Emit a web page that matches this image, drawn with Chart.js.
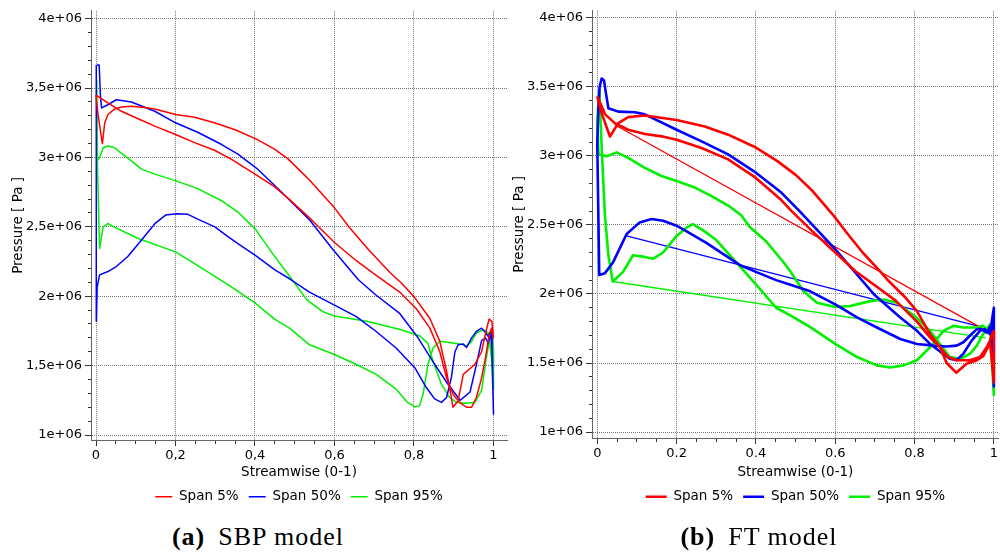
<!DOCTYPE html>
<html>
<head>
<meta charset="utf-8">
<script src="https://cdn.jsdelivr.net/npm/chart.js@4.4.1/dist/chart.umd.min.js"></script>
<style>
  body { margin: 0; width: 1000px; height: 556px; background: #fff; position: relative; overflow: hidden; }
  canvas { position: absolute; top: 0; }
  #sbp-chart { left: 0; }
  #ft-chart { left: 500px; }
  .caption { position: absolute; top: 522px; font-family: 'Liberation Serif', serif; font-size: 26px; letter-spacing: 1px; text-align: center; color: #000; line-height: 30px; }
</style>
</head>
<body>
<canvas id="sbp-chart" width="510" height="520"></canvas>
<canvas id="ft-chart" width="500" height="520"></canvas>
<div class="caption" style="left:0;width:516px"><b>(a)</b><span style="margin-left:13px">SBP model</span></div>
<div class="caption" style="left:518px;width:482px"><b>(b)</b><span style="margin-left:13px">FT model</span></div>
<script>
// pressure in 1e6 Pa, streamwise position 0-1
const xMajor = [0, 0.2, 0.4, 0.6, 0.8, 1];
const yMajor = [1, 1.5, 2, 2.5, 3, 3.5, 4];
const sbpXLabels = ['0', '0,2', '0,4', '0,6', '0,8', '1'];
const sbpYLabels = ['1e+06', '1,5e+06', '2e+06', '2,5e+06', '3e+06', '3,5e+06', '4e+06'];
const ftXLabels = ['0', '0.2', '0.4', '0.6', '0.8', '1'];
const ftYLabels = ['1e+06', '1.5e+06', '2e+06', '2.5e+06', '3e+06', '3.5e+06', '4e+06'];
const spanLabels = ['Span 5%', 'Span 50%', 'Span 95%'];
const spanColors = ['#ff0000', '#0000ff', '#00f000'];

// SBP model, each span is one closed loop round the blade
const sbpSpan5X = [0.000, 0.005, 0.016, 0.022, 0.030, 0.047, 0.064, 0.089, 0.127, 0.148, 0.200, 0.248, 0.298, 0.350, 0.405, 0.449, 0.483, 0.513, 0.537, 0.600,
  0.638, 0.688, 0.739, 0.770, 0.802, 0.840, 0.865, 0.882, 0.894, 0.898, 0.911, 0.924, 0.953, 0.970, 0.981, 0.989, 0.996, 1.000,
  0.995, 0.988, 0.980, 0.970, 0.957, 0.945, 0.932, 0.915, 0.899, 0.882, 0.865, 0.840, 0.806, 0.764, 0.705, 0.655, 0.600, 0.537, 0.487, 0.449,
  0.399, 0.340, 0.298, 0.248, 0.200, 0.148, 0.106, 0.064, 0.030, 0.000];
const sbpSpan5P = [3.45, 3.31, 3.10, 3.25, 3.31, 3.35, 3.364, 3.37, 3.358, 3.35, 3.31, 3.29, 3.25, 3.20, 3.13, 3.06, 2.99, 2.905, 2.838, 2.637,
  2.494, 2.328, 2.173, 2.09, 1.99, 1.84, 1.675, 1.46, 1.27, 1.20, 1.247, 1.437, 1.508, 1.60, 1.746, 1.836, 1.817, 1.70,
  1.77, 1.70, 1.56, 1.41, 1.27, 1.20, 1.20, 1.235, 1.29, 1.41, 1.60, 1.77, 1.91, 2.03, 2.15, 2.256, 2.387, 2.565, 2.696, 2.79,
  2.881, 2.988, 3.052, 3.107, 3.166, 3.226, 3.279, 3.333, 3.393, 3.45];

const sbpSpan50X = [0.002, 0.008, 0.011, 0.014, 0.030, 0.051, 0.089, 0.148, 0.200, 0.257, 0.315, 0.357, 0.405, 0.471, 0.496, 0.538, 0.597, 0.660, 0.705, 0.764,
  0.807, 0.849, 0.882, 0.916, 0.941, 0.958, 0.970, 0.980, 0.987, 0.993, 0.996, 1.000,
  0.996, 0.992, 0.987, 0.978, 0.970, 0.957, 0.945, 0.932, 0.924, 0.911, 0.903, 0.894, 0.882, 0.869, 0.852, 0.831, 0.802, 0.755, 0.705, 0.655,
  0.600, 0.537, 0.487, 0.450, 0.400, 0.357, 0.332, 0.299, 0.260, 0.231, 0.203, 0.175, 0.148, 0.114, 0.080, 0.051, 0.030, 0.009, 0.003, 0.001,
  0.000, 0.000, 0.002];
const sbpSpan50P = [3.666, 3.666, 3.45, 3.357, 3.38, 3.416, 3.40, 3.333, 3.25, 3.18, 3.095, 3.024, 2.92, 2.738, 2.666, 2.547, 2.333, 2.119, 2.007, 1.876,
  1.714, 1.524, 1.38, 1.25, 1.31, 1.52, 1.68, 1.70, 1.66, 1.74, 1.60, 1.15,
  1.72, 1.746, 1.71, 1.746, 1.77, 1.746, 1.70, 1.63, 1.655, 1.65, 1.60, 1.413, 1.27, 1.235, 1.26, 1.342, 1.485, 1.627, 1.746, 1.853,
  1.936, 2.03, 2.126, 2.19, 2.297, 2.38, 2.43, 2.50, 2.55, 2.59, 2.595, 2.585, 2.523, 2.404, 2.286, 2.214, 2.178, 2.154, 2.07, 1.82,
  2.50, 3.30, 3.666];

const sbpSpan95X = [0.002, 0.003, 0.009, 0.018, 0.030, 0.047, 0.064, 0.089, 0.114, 0.148, 0.200, 0.257, 0.315, 0.357, 0.402, 0.446, 0.488, 0.530, 0.571, 0.600,
  0.681, 0.765, 0.815, 0.835, 0.848, 0.869, 0.890, 0.907, 0.932, 0.953, 0.970, 0.982, 0.991, 0.995, 1.000,
  1.000, 0.995, 0.991, 0.987, 0.974, 0.957, 0.945, 0.932, 0.924, 0.907, 0.865, 0.848, 0.835, 0.823, 0.814, 0.802, 0.784, 0.755, 0.705, 0.655,
  0.600, 0.537, 0.487, 0.450, 0.400, 0.332, 0.273, 0.200, 0.106, 0.045, 0.030, 0.018, 0.009, 0.004, 0.002];
const sbpSpan95P = [3.56, 2.98, 3.00, 3.07, 3.083, 3.07, 3.03, 2.976, 2.916, 2.88, 2.833, 2.774, 2.69, 2.607, 2.48, 2.30, 2.14, 1.976, 1.888, 1.857,
  1.82, 1.76, 1.714, 1.66, 1.53, 1.365, 1.27, 1.235, 1.228, 1.235, 1.32, 1.556, 1.70, 1.746, 1.62,
  1.33, 1.556, 1.65, 1.735, 1.758, 1.735, 1.675, 1.64, 1.65, 1.66, 1.675, 1.627, 1.508, 1.295, 1.21, 1.204, 1.235, 1.33, 1.437, 1.508,
  1.58, 1.65, 1.77, 1.833, 1.952, 2.083, 2.19, 2.32, 2.416, 2.50, 2.524, 2.50, 2.345, 2.90, 3.56];

// FT model: thick loops plus the thin straight jumps across each loop
const ftSpan5X = [0.000, 0.012, 0.032, 0.053, 0.078, 0.120, 0.200, 0.271, 0.330, 0.400, 0.455, 0.501, 0.543, 0.598, 0.627, 0.669, 0.711, 0.736, 0.775, 0.806,
  0.839, 0.864, 0.881, 0.905, 0.931, 0.957, 0.973, 0.986, 0.994, 1.000, 1.000,
  0.990, 0.982, 0.965, 0.940, 0.906, 0.885, 0.864, 0.839, 0.806, 0.753, 0.711, 0.652, 0.598, 0.540, 0.490, 0.464, 0.400, 0.330, 0.263, 0.200,
  0.162, 0.120, 0.078, 0.044, 0.020, 0.000];
const ftSpan5P = [3.43, 3.30, 3.14, 3.237, 3.28, 3.292, 3.26, 3.213, 3.153, 3.06, 2.96, 2.86, 2.745, 2.56, 2.45, 2.30, 2.17, 2.09, 1.98, 1.876,
  1.71, 1.614, 1.50, 1.43, 1.495, 1.52, 1.55, 1.62, 1.70, 1.73, 1.36,
  1.66, 1.614, 1.543, 1.52, 1.52, 1.543, 1.614, 1.686, 1.80, 1.95, 2.04, 2.162, 2.305, 2.46, 2.60, 2.68, 2.84, 2.974, 3.057, 3.117,
  3.141, 3.158, 3.189, 3.237, 3.30, 3.43];
const ftSpan5JumpX = [0.044, 0.990];
const ftSpan5JumpP = [3.225, 1.72];

const ftSpan50X = [0.000, 0.003, 0.006, 0.011, 0.017, 0.022, 0.028, 0.053, 0.095, 0.120, 0.200, 0.263, 0.330, 0.400, 0.464, 0.510, 0.598, 0.652, 0.700, 0.764,
  0.806, 0.839, 0.870, 0.889, 0.906, 0.923, 0.944, 0.965, 0.977, 0.990, 1.000, 1.000,
  0.994, 0.982, 0.969, 0.957, 0.944, 0.923, 0.906, 0.881, 0.848, 0.806, 0.764, 0.705, 0.655, 0.600, 0.537, 0.487, 0.451, 0.400, 0.359, 0.317,
  0.275, 0.233, 0.200, 0.166, 0.137, 0.107, 0.074, 0.040, 0.019, 0.005, 0.000];
const ftSpan50P = [3.09, 3.35, 3.50, 3.56, 3.545, 3.45, 3.345, 3.32, 3.316, 3.30, 3.189, 3.105, 3.01, 2.878, 2.734, 2.60, 2.33, 2.15, 1.99, 1.83,
  1.733, 1.638, 1.57, 1.531, 1.52, 1.567, 1.662, 1.733, 1.745, 1.71, 1.90, 1.33,
  1.78, 1.72, 1.745, 1.745, 1.71, 1.65, 1.626, 1.62, 1.626, 1.638, 1.674, 1.757, 1.83, 1.924, 2.019, 2.067, 2.10, 2.16, 2.21, 2.29,
  2.37, 2.44, 2.494, 2.53, 2.542, 2.518, 2.434, 2.23, 2.149, 2.137, 3.09];
const ftSpan50JumpX = [0.074, 0.970];
const ftSpan50JumpP = [2.42, 1.76];

const ftSpan95X = [1.000, 0.990, 0.973, 0.957, 0.940, 0.915, 0.889, 0.864, 0.839, 0.800, 0.755, 0.722, 0.688, 0.638, 0.600, 0.554, 0.520, 0.487, 0.468, 0.426,
  0.384, 0.363, 0.330, 0.287, 0.246, 0.200, 0.162, 0.120, 0.078, 0.049, 0.024, 0.003, 0.000,
  0.005, 0.011, 0.019, 0.028, 0.039, 0.065, 0.090, 0.116, 0.141, 0.166, 0.200, 0.225, 0.241, 0.267, 0.300, 0.350, 0.400, 0.451, 0.490, 0.537,
  0.600, 0.655, 0.705, 0.738, 0.772, 0.806, 0.839, 0.873, 0.898, 0.923, 0.957, 0.973, 0.986, 0.994, 1.000];
const ftSpan95P = [1.26, 1.78, 1.71, 1.626, 1.567, 1.53, 1.543, 1.638, 1.733, 1.84, 1.936, 1.96, 1.948, 1.912, 1.905, 1.936, 2.019, 2.162, 2.235, 2.38,
  2.487, 2.57, 2.64, 2.71, 2.77, 2.818, 2.854, 2.913, 2.985, 3.025, 2.997, 3.01, 3.25,
  3.476, 3.07, 2.58, 2.28, 2.09, 2.16, 2.28, 2.27, 2.255, 2.30, 2.42, 2.48, 2.505, 2.46, 2.39, 2.23, 2.07, 1.90, 1.84, 1.76,
  1.638, 1.543, 1.483, 1.467, 1.483, 1.52, 1.614, 1.733, 1.769, 1.757, 1.757, 1.769, 1.73, 1.78, 1.26];
const ftSpan95JumpX = [0.039, 0.979];
const ftSpan95JumpP = [2.09, 1.682];

const FONT = 'DejaVu Sans';
const pts = (xs, ps) => xs.map((x, i) => ({ x: x, y: ps[i] }));
const majorIndex = (v, list) => list.findIndex(m => Math.abs(m - v) < 1e-6);

function stepTicks(from, to, step) {
  const out = [];
  for (let v = from; v <= to + 1e-9; v += step) out.push({ value: Math.round(v * 1000) / 1000 });
  return out;
}

function axis(o) {
  const isMajor = c => c.tick && majorIndex(c.tick.value, o.major) >= 0;
  return {
    type: 'linear',
    min: o.min,
    max: o.max,
    afterBuildTicks: s => { s.ticks = stepTicks(o.from, o.to, o.step); },
    afterFit: s => {
      if (o.width) s.width = o.width;
      if (o.height) s.height = o.height;
    },
    ticks: {
      autoSkip: false,
      maxRotation: 0,
      padding: o.tickPad,
      color: '#000',
      font: { family: FONT, size: 13 },
      callback: v => {
        const i = majorIndex(v, o.major);
        return i < 0 ? '' : o.labels[i];
      }
    },
    grid: {
      color: c => isMajor(c) ? '#777' : 'rgba(0,0,0,0)',
      tickColor: '#333',
      tickLength: 6,
      // minor ticks: only the half next to the axis line
      tickBorderDash: c => isMajor(c) ? [] : o.minorDash,
      lineWidth: 1
    },
    border: { display: true, color: '#666', dash: [1, 1] },
    title: { display: true, text: o.title, color: '#000', font: { family: FONT, size: 13.5 }, padding: o.titlePad }
  };
}

function loop(label, color, width, xs, ps) {
  return { label: label, data: pts(xs, ps), borderColor: color, backgroundColor: color, borderWidth: width,
    showLine: true, pointRadius: 0, fill: false, tension: 0, borderJoinStyle: 'round' };
}

function makeChart(id, cfg) {
  return new Chart(document.getElementById(id), {
    type: 'scatter',
    data: { datasets: cfg.datasets },
    options: {
      responsive: false,
      animation: false,
      events: [],
      layout: { padding: cfg.padding },
      scales: {
        x: axis(Object.assign({ from: 0, to: 1, step: 0.05, major: xMajor, minorDash: [3, 20], tickPad: 2,
          title: 'Streamwise (0-1)', titlePad: { top: 0, bottom: -1 } }, cfg.x)),
        y: axis(Object.assign({ from: 1, to: 4, step: 0.1, major: yMajor, minorDash: [0, 3, 3, 20], tickPad: 3,
          title: 'Pressure [ Pa ]' }, cfg.y))
      },
      plugins: {
        tooltip: { enabled: false },
        legend: {
          position: 'bottom',
          fullSize: false,
          labels: {
            usePointStyle: true,
            pointStyle: 'line',
            pointStyleWidth: cfg.legendLine,
            padding: 10,
            color: '#000',
            font: { family: FONT, size: 13.5 },
            filter: item => !!item.text
          }
        }
      }
    }
  });
}

makeChart('sbp-chart', {
  padding: { top: 7, left: 0, right: 3, bottom: 6.5 },
  legendLine: 17,
  x: { min: -0.0126, max: 1.034, labels: sbpXLabels, height: 40 },
  y: { min: 0.964, max: 4.057, labels: sbpYLabels, width: 91, titlePad: { top: 9.9, bottom: 0 } },
  datasets: [
    loop(spanLabels[0], spanColors[0], 1.5, sbpSpan5X, sbpSpan5P),
    loop(spanLabels[1], spanColors[1], 1.5, sbpSpan50X, sbpSpan50P),
    loop(spanLabels[2], spanColors[2], 1.5, sbpSpan95X, sbpSpan95P)
  ]
});

makeChart('ft-chart', {
  padding: { top: 7, left: 0, right: 0, bottom: 6.5 },
  legendLine: 21,
  x: { min: -0.0133, max: 1.0126, labels: ftXLabels, height: 42 },
  y: { min: 0.957, max: 4.05, labels: ftYLabels, width: 92, titlePad: { top: 10.9, bottom: 0 } },
  datasets: [
    loop(spanLabels[0], spanColors[0], 2.6, ftSpan5X, ftSpan5P),
    loop(spanLabels[1], spanColors[1], 2.6, ftSpan50X, ftSpan50P),
    loop(spanLabels[2], spanColors[2], 2.6, ftSpan95X, ftSpan95P),
    loop('', spanColors[0], 1.3, ftSpan5JumpX, ftSpan5JumpP),
    loop('', spanColors[1], 1.3, ftSpan50JumpX, ftSpan50JumpP),
    loop('', spanColors[2], 1.3, ftSpan95JumpX, ftSpan95JumpP)
  ]
});
</script>
</body>
</html>
